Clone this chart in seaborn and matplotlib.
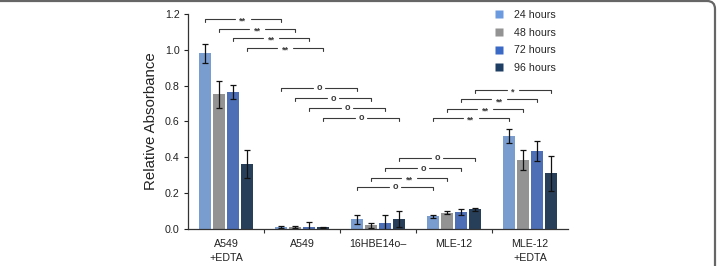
import numpy as np
import pandas as pd
import seaborn as sns
import matplotlib.pyplot as plt
from matplotlib.lines import Line2D
from matplotlib.patches import FancyBboxPatch

# data
groups = ["A549\n+EDTA", "A549", "16HBE14o\u2013", "MLE-12", "MLE-12\n+EDTA"]
times = ["24 hours", "48 hours", "72 hours", "96 hours"]
h24 = [0.98, 0.013, 0.055, 0.07, 0.52]
h48 = [0.752, 0.01, 0.02, 0.092, 0.385]
h72 = [0.764, 0.012, 0.035, 0.095, 0.435]
h96 = [0.362, 0.01, 0.055, 0.11, 0.31]
e24 = [0.055, 0.005, 0.025, 0.007, 0.04]
e48 = [0.075, 0.004, 0.015, 0.007, 0.055]
e72 = [0.04, 0.025, 0.045, 0.015, 0.055]
e96 = [0.08, 0.003, 0.045, 0.01, 0.1]

# significance brackets: heights per time point and labels
sig_01_h = [1.173, 1.117, 1.067, 1.01]
sig_01_lab = ["**", "**", "**", "**"]
sig_12_h = [0.788, 0.73, 0.676, 0.62]
sig_12_lab = ["o", "o", "o", "o"]
sig_23_h = [0.235, 0.285, 0.34, 0.397]
sig_23_lab = ["o", "**", "o", "o"]
sig_34_h = [0.62, 0.67, 0.725, 0.776]
sig_34_lab = ["**", "**", "**", "*"]

colors = ["#6c9ade", "#939393", "#3b69c6", "#1f3e63"]

sns.set_theme(style="white")
plt.rcParams["font.family"] = ["Liberation Sans", "DejaVu Sans"]

means = [h24, h48, h72, h96]
errs = [e24, e48, e72, e96]
df = pd.DataFrame({
    "group": groups * 4,
    "time": np.repeat(times, len(groups)),
    "value": np.concatenate(means),
})

fig = plt.figure(figsize=(7.18, 2.66), dpi=100)
ax = fig.add_axes([188 / 718, 1 - 229 / 266, 380 / 718, 215 / 266])

sns.barplot(data=df, x="group", y="value", hue="time", palette=colors,
            width=0.74, gap=0.2, errorbar=None, ax=ax, legend=False,
            edgecolor="none")

# error bars + bar centers
centers = []
for cont, err in zip(ax.containers, errs):
    xs = [p.get_x() + p.get_width() / 2 for p in cont.patches]
    ys = [p.get_height() for p in cont.patches]
    centers.append(xs)
    ax.errorbar(xs, ys, yerr=err, fmt="none", ecolor="#111111",
                elinewidth=0.9, capsize=2.5, capthick=0.9)

# brackets: line broken in the middle for the label
def bracket(x1, x2, h, label):
    d = 0.018
    mid = (x1 + x2) / 2
    half = 0.1 if label == "**" else 0.075
    kw = dict(color="#3a3a3a", lw=0.8, clip_on=False)
    ax.plot([x1, x1, mid - half], [h - d, h, h], **kw)
    ax.plot([mid + half, x2, x2], [h, h, h - d], **kw)
    dy = -1.8 if "*" in label else 0
    ax.annotate(label, (mid, h), xytext=(0, dy), textcoords="offset points",
                ha="center", va="center", fontsize=6.5, color="#3a3a3a",
                fontweight="bold")

sets = [(0, 1, sig_01_h, sig_01_lab), (1, 2, sig_12_h, sig_12_lab),
        (2, 3, sig_23_h, sig_23_lab), (3, 4, sig_34_h, sig_34_lab)]
for ga, gb, hs, labs in sets:
    for k in range(4):
        bracket(centers[k][ga], centers[k][gb], hs[k], labs[k])

ax.set_ylim(0, 1.2)
ax.set_xlim(-0.5, 4.5)
ax.set_yticks(np.arange(0, 1.21, 0.2))
ax.set_yticklabels([f"{v:.1f}" for v in np.arange(0, 1.21, 0.2)], fontsize=7.7)
ax.set_xticks(range(len(groups)))
ax.set_xticklabels(groups, fontsize=7.7, linespacing=1.45)
ax.set_xticks([0.5, 1.5, 2.5, 3.5], minor=True)
ax.tick_params(axis="x", which="major", length=0, pad=7.5, colors="#222222")
ax.tick_params(axis="x", which="minor", length=3, width=0.8, direction="out",
               bottom=True, color="#333333")
ax.tick_params(axis="y", length=3, width=0.8, direction="out", left=True,
               colors="#222222", pad=3)
ax.set_xlabel("")
ax.set_ylabel("Relative Absorbance", fontsize=10.8, color="#222222", labelpad=5)
for s in ["top", "right"]:
    ax.spines[s].set_visible(False)
for s in ["left", "bottom"]:
    ax.spines[s].set_color("#333333")
    ax.spines[s].set_linewidth(0.9)

handles = [Line2D([], [], marker="s", linestyle="none", markersize=6,
                  markerfacecolor=c, markeredgecolor="none") for c in colors]
fig.legend(handles, times, loc="upper left", bbox_to_anchor=(494 / 718, 1 - 10 / 266),
           frameon=False, fontsize=7.7, handlelength=1.0, handletextpad=0.9,
           labelspacing=0.72, borderaxespad=0, borderpad=0)

# rounded frame that is cropped at left and bottom
frame = FancyBboxPatch((-0.5, -0.5), 7.65, 3.15, boxstyle="round,pad=0,rounding_size=0.08",
                       transform=fig.dpi_scale_trans, facecolor="none",
                       edgecolor="#666666", lw=1.6, clip_on=False)
fig.patches.append(frame)

fig.savefig("out.png", dpi=100)
